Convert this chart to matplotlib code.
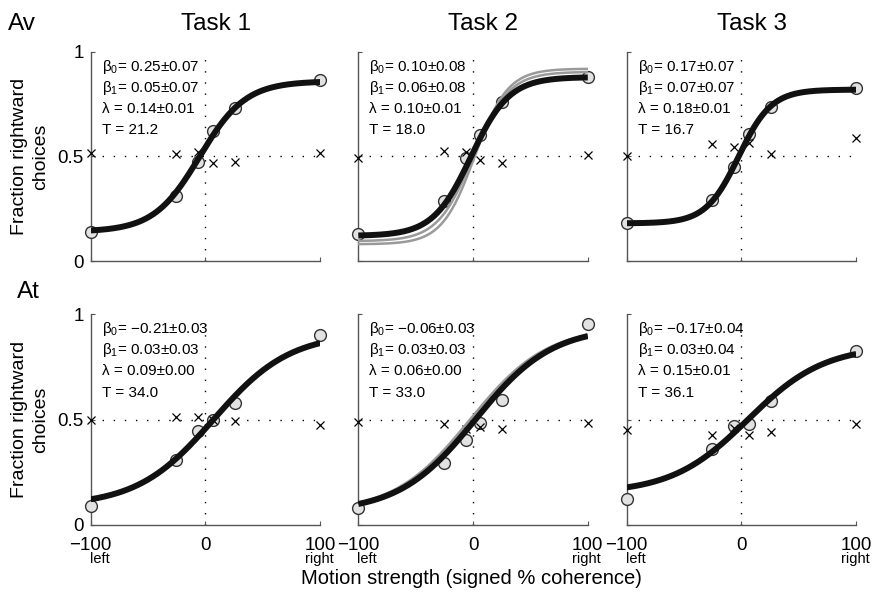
import numpy as np
import matplotlib
matplotlib.use('Agg')
import matplotlib.pyplot as plt

plt.rcParams['font.family'] = ['Liberation Sans', 'DejaVu Sans']
plt.rcParams['mathtext.fontset'] = 'custom'
plt.rcParams['mathtext.rm'] = 'Liberation Sans'
plt.rcParams['mathtext.it'] = 'Liberation Sans'

# signed coherence levels (%)
coh = [-100, -25.6, -6.4, 6.4, 25.6, 100]

tasks = ['Task 1', 'Task 2', 'Task 3']
rows = ['Av', 'At']

# fraction rightward choices, circles (data) and crosses
av_circ = [[0.137, 0.311, 0.475, 0.623, 0.733, 0.866],
           [0.128, 0.287, 0.491, 0.603, 0.762, 0.879],
           [0.183, 0.292, 0.448, 0.606, 0.738, 0.826]]
av_cross = [[0.518, 0.512, 0.523, 0.470, 0.472, 0.517],
            [0.494, 0.526, 0.523, 0.483, 0.467, 0.507],
            [0.504, 0.560, 0.547, 0.563, 0.512, 0.587]]
at_circ = [[0.090, 0.308, 0.445, 0.500, 0.580, 0.900],
           [0.082, 0.294, 0.403, 0.482, 0.592, 0.951],
           [0.122, 0.359, 0.469, 0.477, 0.589, 0.825]]
at_cross = [[0.500, 0.513, 0.510, 0.500, 0.494, 0.475],
            [0.490, 0.479, 0.455, 0.466, 0.454, 0.482],
            [0.450, 0.425, 0.460, 0.425, 0.442, 0.479]]

# fit parameters shown in each panel
av_b0 = ['0.25±0.07', '0.10±0.08', '0.17±0.07']
av_b1 = ['0.05±0.07', '0.06±0.08', '0.07±0.07']
av_lam = ['0.14±0.01', '0.10±0.01', '0.18±0.01']
av_T = ['21.2', '18.0', '16.7']
at_b0 = ['\u22120.21±0.03', '\u22120.06±0.03', '\u22120.17±0.04']
at_b1 = ['0.03±0.03', '0.03±0.03', '0.03±0.04']
at_lam = ['0.09±0.00', '0.06±0.00', '0.15±0.01']
at_T = ['34.0', '33.0', '36.1']

# logistic fit curves (b0, b1, lapse)
av_fit = [(0.25, 0.05, 0.14), (0.10, 0.06, 0.12), (0.17, 0.07, 0.18)]
at_fit = [(-0.21, 0.03, 0.09), (-0.06, 0.03, 0.06), (-0.17, 0.03, 0.15)]
# thin gray curves in Task 2
av_gray = [(0.0, 0.065, 0.095), (-0.1, 0.07, 0.08)]
at_gray = [(0.08, 0.03, 0.06)]


def psych(x, b0, b1, lam):
    return lam + (1 - 2 * lam) / (1 + np.exp(-(b0 + b1 * x)))


fig = plt.figure(figsize=(8.76, 5.94), dpi=100)

lefts = [0.1035, 0.409, 0.7154]
bottoms = [0.5606, 0.1162]
width = 0.262
heights = [0.3519, 0.355]

xs = np.linspace(-100, 100, 300)

for r in range(2):
    circ = av_circ if r == 0 else at_circ
    cross = av_cross if r == 0 else at_cross
    fit = av_fit if r == 0 else at_fit
    gray = av_gray if r == 0 else at_gray
    b0s = av_b0 if r == 0 else at_b0
    b1s = av_b1 if r == 0 else at_b1
    lams = av_lam if r == 0 else at_lam
    Ts = av_T if r == 0 else at_T
    for c in range(3):
        ax = fig.add_axes([lefts[c], bottoms[r], width, heights[r]])
        ax.set_xlim(-100, 100)
        ax.set_ylim(0, 1)
        for s in ['top', 'right']:
            ax.spines[s].set_visible(False)
        for s in ['left', 'bottom']:
            ax.spines[s].set_color('#555555')
            ax.spines[s].set_linewidth(1.0)
        ax.axhline(0.5, color='black', lw=1.0, ls=(0, (1, 7)), zorder=1)
        ax.axvline(0, color='black', lw=1.0, ls=(0, (1, 7)), zorder=1)

        ax.plot(coh, circ[c], 'o', ms=8.5, mfc='#e2e2e2', mec='#333333',
                mew=1.0, clip_on=False, zorder=3)
        ax.plot(coh, cross[c], 'x', ms=5.5, color='black', mew=0.9,
                clip_on=False, zorder=3)
        if c == 1:
            for g in gray:
                ax.plot(xs, psych(xs, *g), color='#9a9a9a', lw=1.8, zorder=4)
        ax.plot(xs, psych(xs, *fit[c]), color='#111111', lw=4.3,
                solid_capstyle='butt', zorder=5)

        lines = ['β$_0$= ' + b0s[c], 'β$_1$= ' + b1s[c],
                 'λ = ' + lams[c], 'T = ' + Ts[c]]
        for i, t in enumerate(lines):
            ax.text(0.048, 0.928 - i * 0.1, t, transform=ax.transAxes,
                    fontsize=11, va='center', ha='left', zorder=6)

        ax.set_xticks([-100, 0, 100])
        ax.set_yticks([0, 0.5, 1])
        ax.tick_params(direction='in', length=3, width=0.8, colors='#555555',
                       labelcolor='black', labelsize=13.5)
        ax.tick_params(axis='y', pad=5)
        ax.tick_params(axis='x', pad=8.5)
        if c == 0:
            ax.set_yticklabels(['0', '0.5', '1'])
        else:
            ax.set_yticklabels([])
        if r == 1:
            ax.set_xticklabels(['\u2212100', '0', '100'])
            ax.text(-101, -0.162, 'left', fontsize=10.5, ha='left',
                    va='center', clip_on=False)
            ax.text(99, -0.162, 'right', fontsize=10.5, ha='center',
                    va='center', clip_on=False)
        else:
            ax.set_xticklabels([])
            ax.text(0.545, 1.0 + 28 / 209, tasks[c], transform=ax.transAxes,
                    fontsize=17.5, ha='center', va='center')

        if c == 0:
            yc = bottoms[r] + heights[r] / 2
            fig.text(30 / 876, yc, 'Fraction rightward\nchoices', rotation=90,
                     fontsize=14, ha='center', va='center', linespacing=1.3)

fig.text(8 / 876, 1 - 24 / 594, rows[0], fontsize=17.5, ha='left', va='center')
fig.text(17 / 876, 1 - 292 / 594, rows[1], fontsize=17.5, ha='left', va='center')
fig.text(471 / 876, 1 - 578 / 594, 'Motion strength (signed % coherence)',
         fontsize=14.5, ha='center', va='center')

fig.savefig('out.png', dpi=100)
